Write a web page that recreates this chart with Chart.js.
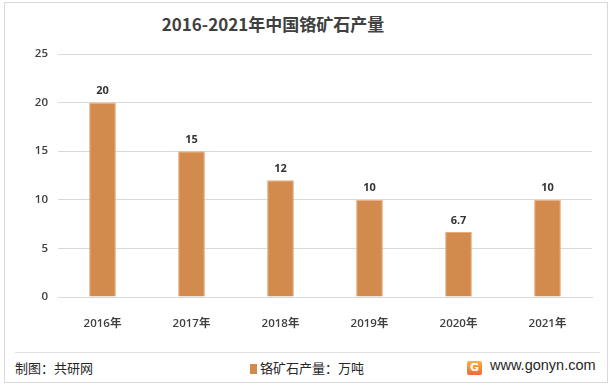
<!DOCTYPE html>
<html>
<head>
<meta charset="utf-8">
<script src="https://cdn.jsdelivr.net/npm/chart.js@4.4.0/dist/chart.umd.min.js"></script>
<style>
  html, body { margin: 0; padding: 0; background: #fff; }
  #wrap { position: relative; width: 614px; height: 387px; overflow: hidden; font-family: "Noto Sans CJK SC", "Noto Sans", sans-serif; }
  #frame { position: absolute; left: 4px; top: 2px; width: 604px; height: 381px; border: 1px solid #d9d9d9; box-sizing: border-box; }
  #title { position: absolute; left: 0; width: 546px; top: 11px; text-align: center; font-size: 17px; font-weight: bold; color: #404040; }
  #box { position: absolute; left: 0; top: 0; width: 614px; height: 340px; }
  #sep { position: absolute; left: 15px; top: 352px; width: 585px; height: 1px; background: #e2e2e2; }
  .foot { position: absolute; top: 358px; font-size: 13px; color: #262626; }
  #leg i { display: inline-block; width: 7px; height: 10px; background: #d38b4d; margin-right: 3px; vertical-align: -1px; }
  #logo { position: absolute; left: 467px; top: 361px; width: 15px; height: 14px; background: linear-gradient(#f7b24a, #ee6a3a); color: #fff; font: bold 11px "DejaVu Sans", sans-serif; text-align: center; line-height: 14px; border-radius: 2px; }
</style>
</head>
<body>
<div id="wrap">
  <div id="frame"></div>
  <div id="title">2016-2021年中国铬矿石产量</div>
  <div id="box"><canvas id="chart"></canvas></div>
  <div id="sep"></div>
  <div class="foot" style="left:15px">制图：共研网</div>
  <div class="foot" id="leg" style="left:250px"><i></i>铬矿石产量：万吨</div>
  <div id="logo">G</div>
  <div class="foot" style="left:490px; top:357px; font-family: 'Liberation Sans', Arial, sans-serif; font-size: 14.5px;">www.gonyn.com</div>
</div>
<script>
const years = ["2016年", "2017年", "2018年", "2019年", "2020年", "2021年"];
const output = [20, 15, 12, 10, 6.7, 10];
const yTicks = [0, 5, 10, 15, 20, 25];

// 柱子上方的数值
const valueLabels = {
  id: "valueLabels",
  afterDatasetsDraw(chart) {
    const ctx = chart.ctx;
    const meta = chart.getDatasetMeta(0);
    ctx.save();
    ctx.font = "bold 11px 'Open Sans', sans-serif";
    ctx.fillStyle = "#333";
    ctx.textAlign = "center";
    ctx.textBaseline = "bottom";
    meta.data.forEach((bar, i) => {
      ctx.fillText(String(output[i]), bar.x, bar.y - 6);
    });
    ctx.restore();
  },
};

const ctx = document.getElementById("chart").getContext("2d");
new Chart(ctx, {
  type: "bar",
  data: {
    labels: years,
    datasets: [
      {
        label: "铬矿石产量",
        data: output,
        backgroundColor: "#d38b4d",
        borderColor: "#e7ac7c",
        borderWidth: 1,
        categoryPercentage: 1,
        barPercentage: 0.3,
      },
    ],
  },
  options: {
    responsive: true,
    maintainAspectRatio: false,
    animation: false,
    layout: { padding: { top: 54, right: 22, left: 0, bottom: 0 } },
    plugins: {
      legend: { display: false },
      tooltip: { enabled: false },
    },
    scales: {
      x: {
        grid: { display: false },
        border: { color: "#d9d9d9" },
        ticks: { color: "#404040", font: { size: 11.5, weight: "600", family: "'Open Sans', 'Noto Sans CJK SC', sans-serif" }, padding: 12 },
        afterFit(scale) { scale.height = 43; },
      },
      y: {
        min: 0,
        max: 25,
        afterBuildTicks(scale) { scale.ticks = yTicks.map((v) => ({ value: v })); },
        grid: { color: "#d9d9d9", drawTicks: false },
        border: { display: false },
        ticks: { color: "#404040", font: { size: 11.5, weight: "600", family: "'Open Sans', sans-serif" }, padding: 10 },
        afterFit(scale) { scale.width = 58; },
      },
    },
  },
  plugins: [valueLabels],
});
</script>
</body>
</html>
